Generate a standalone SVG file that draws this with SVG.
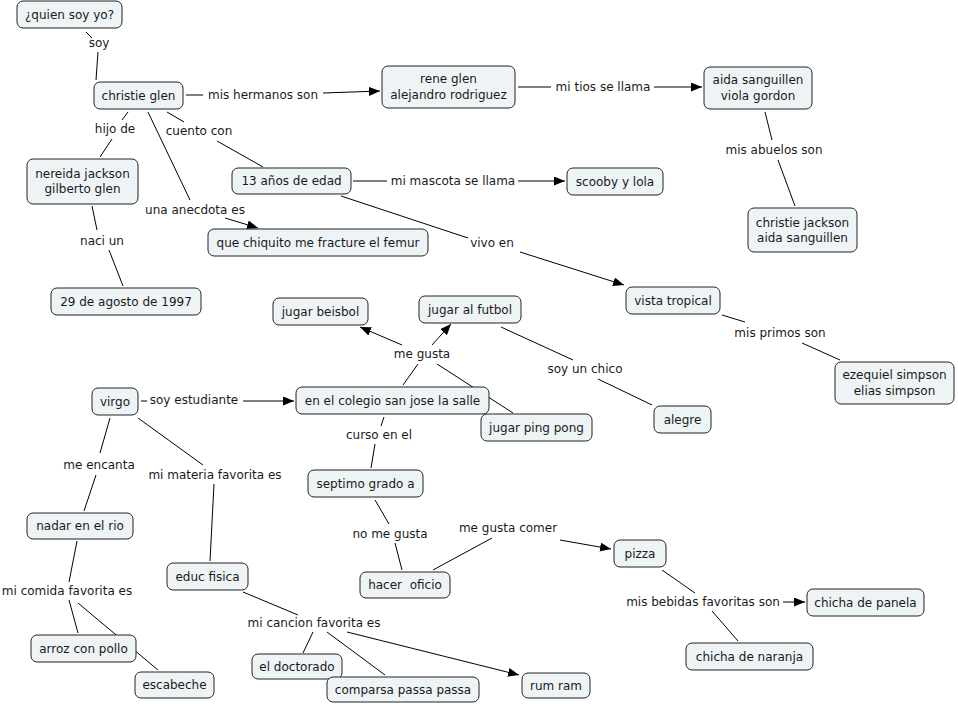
<svg xmlns="http://www.w3.org/2000/svg" width="958" height="704" viewBox="0 0 958 704">
<defs>
<marker id="arr" viewBox="0 0 11 9" refX="11" refY="4.5" markerWidth="11" markerHeight="9" markerUnits="userSpaceOnUse" orient="auto">
<path d="M0,0 L11,4.5 L0,9 z" fill="#000"/>
</marker>
<style>
.n rect{fill:#eef3f5;stroke:#222;stroke-width:1;}
text{font-family:"DejaVu Sans","Verdana",sans-serif;font-size:12px;fill:#1a1a1a;text-anchor:middle;}
#edges line{stroke:#000;stroke-width:1;fill:none;}
#edges line.a{marker-end:url(#arr);}
</style>
</defs>
<rect width="958" height="704" fill="#fff"/>
<g id="edges">
<line x1="86" y1="32" x2="92" y2="38"/>
<line x1="98" y1="52" x2="96" y2="80"/>
<line x1="186" y1="95" x2="203" y2="95"/>
<line class="a" x1="323" y1="93" x2="380" y2="91"/>
<line x1="128" y1="112" x2="122" y2="120"/>
<line x1="112" y1="139" x2="100" y2="157"/>
<line x1="167" y1="112" x2="184" y2="122"/>
<line x1="217" y1="141" x2="263" y2="167"/>
<line x1="148" y1="112" x2="190" y2="200"/>
<line class="a" x1="225" y1="218" x2="258" y2="228"/>
<line x1="92" y1="206" x2="97" y2="230"/>
<line x1="109" y1="250" x2="123" y2="286"/>
<line x1="518" y1="87" x2="551" y2="87"/>
<line class="a" x1="654" y1="87" x2="702" y2="87"/>
<line x1="765" y1="112" x2="772" y2="140"/>
<line x1="778" y1="160" x2="795" y2="206"/>
<line x1="353" y1="181" x2="387" y2="181"/>
<line class="a" x1="518" y1="181" x2="565" y2="181"/>
<line x1="341" y1="196" x2="468" y2="238"/>
<line class="a" x1="520" y1="252" x2="624" y2="285"/>
<line x1="722" y1="315" x2="745" y2="322"/>
<line x1="802" y1="343" x2="840" y2="360"/>
<line x1="403" y1="385" x2="418" y2="364"/>
<line class="a" x1="402" y1="345" x2="360" y2="327"/>
<line class="a" x1="432" y1="345" x2="451" y2="324"/>
<line x1="437" y1="364" x2="513" y2="413"/>
<line x1="501" y1="327" x2="573" y2="360"/>
<line x1="598" y1="379" x2="652" y2="405"/>
<line x1="141" y1="401" x2="147" y2="401"/>
<line class="a" x1="243" y1="401" x2="294" y2="401"/>
<line x1="384" y1="417" x2="381" y2="426"/>
<line x1="375" y1="444" x2="371" y2="468"/>
<line x1="110" y1="418" x2="100" y2="453"/>
<line x1="96" y1="475" x2="84" y2="511"/>
<line x1="138" y1="418" x2="203" y2="465"/>
<line x1="214" y1="484" x2="210" y2="561"/>
<line x1="375" y1="500" x2="389" y2="524"/>
<line x1="395" y1="543" x2="402" y2="570"/>
<line x1="433" y1="570" x2="492" y2="538"/>
<line class="a" x1="560" y1="540" x2="611" y2="549"/>
<line x1="662" y1="570" x2="695" y2="593"/>
<line class="a" x1="783" y1="602" x2="805" y2="602"/>
<line x1="712" y1="611" x2="738" y2="641"/>
<line x1="77" y1="541" x2="69" y2="582"/>
<line x1="69" y1="600" x2="78" y2="633"/>
<line x1="78" y1="603" x2="158" y2="670"/>
<line x1="243" y1="592" x2="298" y2="615"/>
<line x1="313" y1="632" x2="303" y2="653"/>
<line x1="327" y1="632" x2="385" y2="675"/>
<line class="a" x1="347" y1="632" x2="519" y2="675"/>
</g>
<g id="labels">
<text x="99" y="47">soy</text>
<text x="263" y="99">mis hermanos son</text>
<text x="115" y="133">hijo de</text>
<text x="199" y="135">cuento con</text>
<text x="195" y="214">una anecdota es</text>
<text x="102" y="245">naci un</text>
<text x="603" y="91">mi tios se llama</text>
<text x="774" y="154">mis abuelos son</text>
<text x="453" y="185">mi mascota se llama</text>
<text x="492" y="247">vivo en</text>
<text x="780" y="337">mis primos son</text>
<text x="422" y="358">me gusta</text>
<text x="585" y="373">soy un chico</text>
<text x="194" y="404">soy estudiante</text>
<text x="379" y="439">curso en el</text>
<text x="99" y="469">me encanta</text>
<text x="215" y="479">mi materia favorita es</text>
<text x="390" y="538">no me gusta</text>
<text x="508" y="532">me gusta comer</text>
<text x="67" y="595">mi comida favorita es</text>
<text x="314" y="627">mi cancion favorita es</text>
<text x="703" y="606">mis bebidas favoritas son</text>
</g>
<g id="n1" class="n"><rect x="17" y="1" width="105" height="27" rx="6"/><text x="69.5" y="19">¿quien soy yo?</text></g>
<g id="n2" class="n"><rect x="94" y="82" width="89" height="27" rx="6"/><text x="138.5" y="100">christie glen</text></g>
<g id="n3" class="n"><rect x="27" y="159" width="111" height="45" rx="6"/><text x="82.5" y="178">nereida jackson</text><text x="82.5" y="193">gilberto glen</text></g>
<g id="n4" class="n"><rect x="382" y="66" width="133" height="42" rx="6"/><text x="448.5" y="83">rene glen</text><text x="448.5" y="98.500">alejandro rodriguez</text></g>
<g id="n5" class="n"><rect x="704" y="67" width="108" height="42" rx="6"/><text x="758" y="84">aida sanguillen</text><text x="758" y="99.500">viola gordon</text></g>
<g id="n6" class="n"><rect x="232" y="168" width="119" height="26" rx="6"/><text x="291.5" y="185">13 años de edad</text></g>
<g id="n7" class="n"><rect x="567" y="168" width="96" height="27" rx="6"/><text x="615" y="186">scooby y lola</text></g>
<g id="n8" class="n"><rect x="208" y="229" width="220" height="27" rx="6"/><text x="318" y="247">que chiquito me fracture el femur</text></g>
<g id="n9" class="n"><rect x="748" y="208" width="109" height="44" rx="6"/><text x="802.5" y="226.500">christie jackson</text><text x="802.5" y="241.500">aida sanguillen</text></g>
<g id="n10" class="n"><rect x="51" y="288" width="150" height="27" rx="6"/><text x="126" y="306">29 de agosto de 1997</text></g>
<g id="n11" class="n"><rect x="626" y="287" width="94" height="27" rx="6"/><text x="673" y="305">vista tropical</text></g>
<g id="n12" class="n"><rect x="273" y="298" width="95" height="27" rx="6"/><text x="320.5" y="316">jugar beisbol</text></g>
<g id="n13" class="n"><rect x="419" y="296" width="102" height="27" rx="6"/><text x="470" y="314">jugar al futbol</text></g>
<g id="n14" class="n"><rect x="835" y="362" width="119" height="42" rx="6"/><text x="894.5" y="379">ezequiel simpson</text><text x="894.5" y="394.500">elias simpson</text></g>
<g id="n15" class="n"><rect x="92" y="388" width="46" height="27" rx="6"/><text x="115" y="406">virgo</text></g>
<g id="n16" class="n"><rect x="296" y="387" width="193" height="27" rx="6"/><text x="392.5" y="405">en el colegio san jose la salle</text></g>
<g id="n17" class="n"><rect x="481" y="414" width="111" height="27" rx="6"/><text x="536.5" y="432">jugar ping pong</text></g>
<g id="n18" class="n"><rect x="654" y="406" width="57" height="27" rx="6"/><text x="682.5" y="424">alegre</text></g>
<g id="n19" class="n"><rect x="308" y="470" width="115" height="27" rx="6"/><text x="365.5" y="488">septimo grado a</text></g>
<g id="n20" class="n"><rect x="27" y="513" width="106" height="26" rx="6"/><text x="80" y="530">nadar en el rio</text></g>
<g id="n21" class="n"><rect x="167" y="563" width="81" height="27" rx="6"/><text x="207.5" y="581">educ fisica</text></g>
<g id="n22" class="n"><rect x="360" y="572" width="90" height="26" rx="6"/><text x="405" y="589" xml:space="preserve">hacer  oficio</text></g>
<g id="n23" class="n"><rect x="614" y="540" width="52" height="27" rx="6"/><text x="640" y="558">pizza</text></g>
<g id="n24" class="n"><rect x="807" y="589" width="117" height="27" rx="6"/><text x="865.5" y="607">chicha de panela</text></g>
<g id="n25" class="n"><rect x="686" y="643" width="127" height="27" rx="6"/><text x="749.5" y="661">chicha de naranja</text></g>
<g id="n26" class="n"><rect x="31" y="635" width="105" height="27" rx="6"/><text x="83.5" y="653">arroz con pollo</text></g>
<g id="n27" class="n"><rect x="135" y="672" width="79" height="26" rx="6"/><text x="174.5" y="689">escabeche</text></g>
<g id="n28" class="n"><rect x="252" y="654" width="90" height="25" rx="6"/><text x="297" y="671">el doctorado</text></g>
<g id="n29" class="n"><rect x="327" y="677" width="152" height="25" rx="6"/><text x="403" y="694">comparsa passa passa</text></g>
<g id="n30" class="n"><rect x="522" y="673" width="68" height="25" rx="6"/><text x="556" y="690">rum ram</text></g>
</svg>
